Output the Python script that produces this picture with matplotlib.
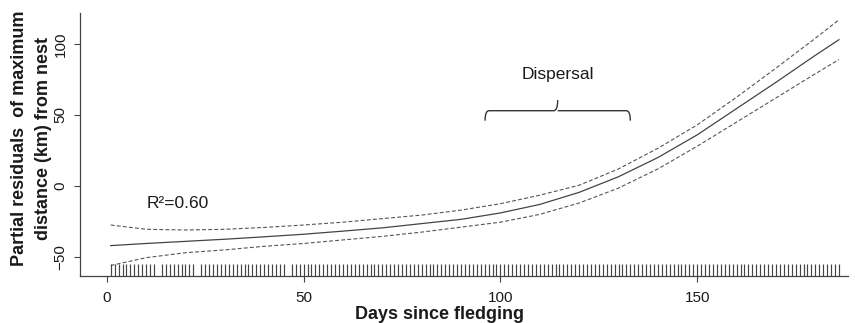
import matplotlib
matplotlib.use("Agg")
import matplotlib.pyplot as plt
import matplotlib.transforms as mtransforms
from matplotlib.path import Path
from matplotlib.patches import PathPatch

plt.rcParams['font.family'] = ['Liberation Sans', 'DejaVu Sans']

# fitted smooth and its confidence band
DAYS = [1, 10, 20, 30, 40, 50, 60, 70, 80, 90, 100, 110, 120, 130, 140, 150, 160, 170, 180, 186]
FIT = [-42, -40.5, -39, -37.5, -35.8, -34, -31.8, -29.5, -26.5, -23.5, -19, -13, -4.5, 6.5, 20, 36,
       54.5, 73, 92, 103]
UPPER = [-27.5, -30.5, -31, -30.5, -29.2, -27.5, -25.5, -23, -20.5, -17, -12.5, -6.5, 0.5, 12, 26.5,
         43, 62.5, 83, 104, 117]
LOWER = [-56, -50.5, -47, -45, -42.5, -40.5, -38, -35.5, -32.5, -29, -25.5, -20, -12, -1.5, 12, 28,
         45, 62, 79, 89]

# days with observations (rug); a few days missing
MISSING_DAYS = [13, 23, 46]
RUG_DAYS = [d for d in range(1, 187) if d not in MISSING_DAYS]

X_TICKS = [0, 50, 100, 150]
Y_TICKS = [-50, 0, 50, 100]

DISPERSAL_START = 96.1
DISPERSAL_END = 133.0
R2_TEXT = "R\u00b2=0.60"

LINE_COL = '#444444'
TEXT_COL = '#1a1a1a'

fig = plt.figure(figsize=(8.55, 3.23), dpi=100)
ax = fig.add_axes([80 / 855, 47 / 323, 768 / 855, 263 / 323])

ax.plot(DAYS, FIT, color=LINE_COL, linewidth=0.9)
ax.plot(DAYS, UPPER, color='#555555', linewidth=0.8, linestyle=(0, (3.5, 2)))
ax.plot(DAYS, LOWER, color='#555555', linewidth=0.8, linestyle=(0, (3.5, 2)))

# rug along the bottom
trans = mtransforms.blended_transform_factory(ax.transData, ax.transAxes)
ax.vlines(RUG_DAYS, 0, 0.045, transform=trans, color='#444444', linewidth=0.85)

ax.set_xlim(-6.8, 188.3)
ax.set_ylim(-63.4, 121.8)

ax.spines['top'].set_visible(False)
ax.spines['right'].set_visible(False)
for s in ['left', 'bottom']:
    ax.spines[s].set_color('#444444')
    ax.spines[s].set_linewidth(0.9)

ax.set_xticks(X_TICKS)
ax.set_yticks(Y_TICKS)
ax.tick_params(axis='both', direction='out', length=4, width=0.8, color='#444444',
               labelsize=11, labelcolor=TEXT_COL)
ax.tick_params(axis='x', pad=7)
ax.tick_params(axis='y', pad=5)
for lab in ax.get_yticklabels():
    lab.set_rotation(90)
    lab.set_va('center')

# annotations
ax.text(18.1, -12, R2_TEXT, fontsize=12.5, color=TEXT_COL, ha='center', va='center')
mid = (DISPERSAL_START + DISPERSAL_END) / 2
ax.text(mid, 78.2, "Dispersal", fontsize=12.5, color=TEXT_COL, ha='center', va='center')

y_h, y_end, y_tip = 53, 46, 60.5
r = 1.0
verts = [
    (DISPERSAL_START, y_end), (DISPERSAL_START, y_h), (DISPERSAL_START + r, y_h),
    (mid - r, y_h), (mid, y_h), (mid, y_tip),
    (mid, y_h), (mid + r, y_h),
    (DISPERSAL_END - r, y_h), (DISPERSAL_END, y_h), (DISPERSAL_END, y_end),
]
codes = [Path.MOVETO, Path.CURVE3, Path.CURVE3,
         Path.LINETO, Path.CURVE3, Path.CURVE3,
         Path.MOVETO, Path.LINETO,
         Path.LINETO, Path.CURVE3, Path.CURVE3]
ax.add_patch(PathPatch(Path(verts, codes), facecolor='none', edgecolor='#333333', linewidth=1.0))

fig.text(31.5 / 855, 1 - 138 / 323, "Partial residuals  of maximum\ndistance (km) from nest",
         rotation=90, ha='center', va='center', multialignment='center',
         fontsize=13, fontweight='bold', color=TEXT_COL, linespacing=1.6)
fig.text(439 / 855, 4 / 323, "Days since fledging", ha='center', va='baseline',
         fontsize=13, fontweight='bold', color=TEXT_COL)

fig.savefig("out.png", dpi=100)
